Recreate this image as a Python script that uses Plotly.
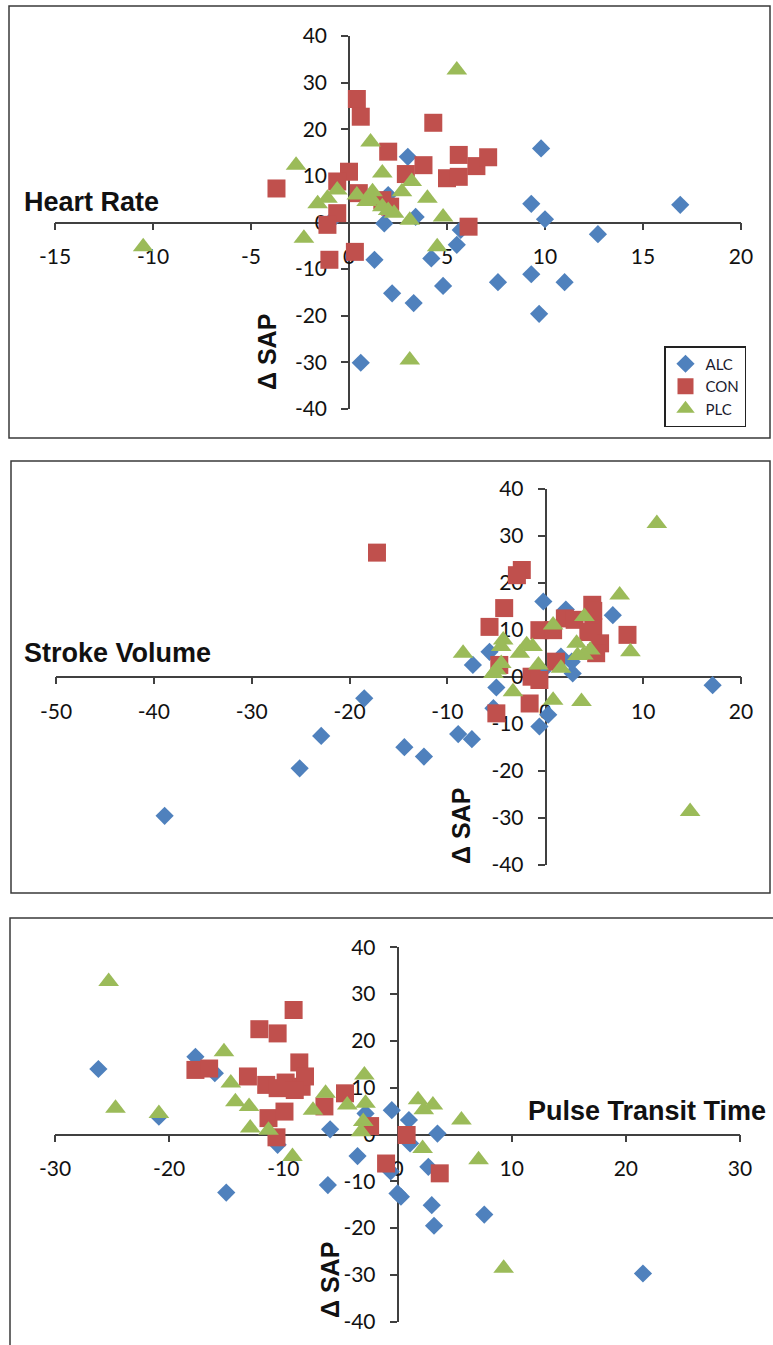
import plotly.graph_objects as go

# ---- Heart Rate panel ----
hr_alc_x = [3.0, 2.0, 1.8, 3.4, 1.3, 4.2, 5.5, 5.7, 2.2, 3.3, 4.8, 0.6, -0.8, 9.8, 9.3, 10.0, 12.7, 16.9, 9.3, 7.6, 11.0, 9.7]
hr_alc_y = [14.1, 5.9, -0.2, 1.2, -8.0, -7.7, -4.8, -1.6, -15.2, -17.3, -13.6, -30.1, 0.8, 15.9, 4.0, 0.7, -2.5, 3.8, -11.1, -12.8, -12.8, -19.6]
hr_con_x = [0.4, 0.6, 4.3, 2.0, 0.0, -0.6, -3.7, 3.8, 2.9, 5.0, 5.6, 5.6, 6.5, 7.1, 1.7, 0.5, -0.6, -1.1, -1.0, 0.3, 6.1, 2.1]
hr_con_y = [26.5, 22.7, 21.4, 15.2, 10.9, 8.8, 7.3, 12.3, 10.4, 9.5, 9.8, 14.5, 12.1, 14.0, 4.8, 6.3, 2.0, -0.5, -8.0, -6.3, -0.9, 3.4]
hr_plc_x = [5.5, 1.1, -2.7, 1.7, 3.2, 2.7, 4.0, -1.1, -0.6, 0.4, 1.2, 4.8, -2.3, 4.5, 3.1, 2.3, 1.7, 1.2, 3.1, -10.5, -1.6, 0.9, 2.0]
hr_plc_y = [32.7, 17.3, 12.3, 10.6, 8.8, 6.6, 5.2, 5.2, 7.0, 5.9, 6.6, 1.2, -3.4, -5.2, 0.5, 2.0, 3.4, 4.8, -29.5, -5.2, 4.0, 4.5, 2.6]

# ---- Stroke Volume panel ----
sv_alc_x = [-38.9, -18.5, -22.9, -25.1, -14.4, -12.4, -8.9, -7.5, -0.2, 2.1, 6.9, -5.7, -7.4, -5.0, -5.3, 2.8, 2.7, 0.3, -0.6, 17.1, -0.3, 1.6]
sv_alc_y = [-29.6, -4.6, -12.6, -19.5, -15.0, -17.0, -12.2, -13.3, 16.0, 14.3, 13.1, 5.3, 2.5, -2.3, -6.7, 0.7, 3.2, -8.1, -10.6, -1.8, 1.2, 4.3]
sv_con_x = [-17.2, -2.4, -2.9, -4.2, -5.7, -0.6, 0.8, 2.0, 3.0, 4.8, 4.9, 5.6, 5.2, 8.4, 1.1, -4.7, -1.4, -0.6, -1.6, -5.0, 4.9, 4.4]
sv_con_y = [26.4, 22.7, 21.6, 14.6, 10.6, 9.9, 9.9, 12.4, 12.1, 15.3, 10.6, 7.1, 5.0, 8.9, 3.2, 2.5, 0.0, -0.7, -5.7, -7.8, 14.0, 9.5]
sv_plc_x = [11.4, 7.6, 8.7, 4.0, 0.8, -4.3, -8.4, -4.5, -2.6, -1.3, -4.5, -5.0, -0.7, 1.6, 3.2, 4.6, 3.9, -3.3, 0.8, 3.7, 14.8, -5.3, -1.9, 3.3]
sv_plc_y = [32.6, 17.4, 5.3, 12.8, 11.0, 7.8, 5.0, 6.4, 5.0, 6.4, 2.8, 1.4, 2.5, 1.8, 7.1, 5.7, 4.6, -3.2, -5.0, -5.3, -28.7, 0.7, 6.8, 4.5]

# ---- Pulse Transit Time panel ----
ptt_alc_x = [-26.2, -17.7, -16.0, -20.9, -10.5, -15.0, -5.9, -6.1, -3.5, -0.5, 1.0, 1.1, -0.6, 0.0, 0.3, 2.7, 3.0, 3.2, 3.5, 7.6, 21.5, -2.8]
ptt_alc_y = [14.0, 16.6, 13.1, 3.8, -2.2, -12.4, 1.1, -10.8, -4.6, 5.2, 3.1, -1.9, -7.9, -12.6, -13.3, -6.9, -15.1, -19.5, 0.2, -17.1, -29.7, 4.5]
ptt_con_x = [-17.7, -16.5, -9.1, -12.1, -10.5, -8.6, -13.1, -11.5, -10.5, -9.8, -8.4, -8.1, -4.6, -6.4, -11.3, -9.9, -10.6, -2.4, -1.0, 0.8, 3.7, -9.0]
ptt_con_y = [13.8, 14.1, 26.6, 22.5, 21.6, 15.4, 12.4, 10.6, 9.9, 11.1, 10.2, 12.4, 8.8, 6.0, 3.5, 4.9, -0.6, 1.8, -6.2, -0.1, -8.3, 9.5]
ptt_plc_x = [-25.3, -15.2, -24.7, -20.9, -14.6, -14.2, -13.0, -12.9, -11.3, -9.2, -7.4, -6.3, -4.4, -2.9, -2.8, -3.0, -3.2, 1.8, 2.3, 3.1, 2.2, 5.6, 7.1, 9.3]
ptt_plc_y = [32.7, 17.7, 5.6, 4.5, 11.0, 7.0, 6.0, 1.4, 0.9, -4.7, 5.2, 8.8, 6.3, 12.7, 6.7, 2.8, 0.6, 7.4, 5.3, 6.3, -3.0, 3.1, -5.4, -28.6]

# ---- tick values / labels (hyphen minus as printed) ----
y_ticks = [-40, -30, -20, -10, 0, 10, 20, 30, 40]
hr_x_ticks = [-15, -10, -5, 0, 5, 10, 15, 20]
sv_x_ticks = [-50, -40, -30, -20, -10, 0, 10, 20]
ptt_x_ticks = [-30, -20, -10, 0, 10, 20, 30]

groups = ["ALC", "CON", "PLC"]
colors = {"ALC": "#4F81BD", "CON": "#C0504D", "PLC": "#9BBB59"}
symbols = {"ALC": "diamond", "CON": "square", "PLC": "triangle-up"}
sizes = {"ALC": 14, "CON": 18, "PLC": 18}

W, H = 773, 1345


def fx(px):
    return px / W


def fy(py):
    return 1 - py / H


def labels(vals):
    return [str(v) for v in vals]


panels = [
    # suffix, data, x range, x ticks, x px span, y px span, origin px
    ("", {"ALC": (hr_alc_x, hr_alc_y), "CON": (hr_con_x, hr_con_y), "PLC": (hr_plc_x, hr_plc_y)},
     [-15, 20], hr_x_ticks, (55, 741), (36.1, 408.9), (349, 222.5)),
    ("2", {"ALC": (sv_alc_x, sv_alc_y), "CON": (sv_con_x, sv_con_y), "PLC": (sv_plc_x, sv_plc_y)},
     [-50, 20], sv_x_ticks, (56, 741), (488.7, 864.7), (545.5, 676.7)),
    ("3", {"ALC": (ptt_alc_x, ptt_alc_y), "CON": (ptt_con_x, ptt_con_y), "PLC": (ptt_plc_x, ptt_plc_y)},
     [-30, 30], ptt_x_ticks, (55, 740), (947.3, 1321.7), (397.5, 1134.5)),
]

fig = go.Figure()
tick_font = dict(family="Lato, Carlito, sans-serif", size=21, color="#111111")
axis_common = dict(showgrid=False, zeroline=False, showline=True, linecolor="#404040",
                   linewidth=1.5, ticks="outside", ticklen=7, tickwidth=1.5,
                   tickcolor="#404040", tickfont=tick_font, layer="below traces",
                   anchor="free", tickmode="array", automargin=False)

for i, (sfx, data, xr, xt, xspan, yspan, origin) in enumerate(panels):
    for g in groups:
        xs, ys = data[g]
        fig.add_trace(go.Scatter(
            x=xs, y=ys, mode="markers", name=g,
            xaxis="x" + sfx, yaxis="y" + sfx,
            showlegend=(i == 0), legendgroup=g,
            marker=dict(symbol=symbols[g], size=sizes[g], color=colors[g],
                        line=dict(width=0)),
            cliponaxis=False,
        ))
    fig.layout["xaxis" + sfx] = dict(
        axis_common, domain=[fx(xspan[0]), fx(xspan[1])], range=xr,
        tickvals=xt, ticktext=labels(xt), position=fy(origin[1]), ticklabelstandoff=9)
    fig.layout["yaxis" + sfx] = dict(
        axis_common, domain=[fy(yspan[1]), fy(yspan[0])], range=[-40, 40],
        tickvals=y_ticks, ticktext=labels(y_ticks), position=fx(origin[0]),
        ticklabelstandoff=10)

# panel frames
frames = [(9, 6, 770, 438), (11, 461, 770, 893), (10, 918, 790, 1360)]
shapes = [dict(type="rect", xref="paper", yref="paper", x0=fx(a), y0=fy(b), x1=fx(c), y1=fy(d),
               line=dict(color="#3a3a3a", width=1.5), layer="below") for a, b, c, d in frames]

title_font = dict(family="Liberation Sans, Arial, sans-serif", size=27, color="#111")
annotations = [
    dict(text="<b>Heart Rate</b>", x=fx(22), y=fy(219), xanchor="left", yanchor="bottom"),
    dict(text="<b>Stroke Volume</b>", x=fx(22), y=fy(670), xanchor="left", yanchor="bottom"),
    dict(text="<b>Pulse Transit Time</b>", x=fx(526), y=fy(1128), xanchor="left", yanchor="bottom"),
]
annotations = [dict(a, xref="paper", yref="paper", showarrow=False, font=title_font) for a in annotations]

sap_font = dict(family="Liberation Sans, Arial, sans-serif", size=25, color="#111")
for cx, cy in [(267, 352), (461, 826), (330, 1280)]:
    annotations.append(dict(text="<b>\u0394 SAP</b>", textangle=-90, x=fx(cx), y=fy(cy),
                            xref="paper", yref="paper", xanchor="center", yanchor="middle",
                            showarrow=False, font=sap_font))

fig.update_layout(
    width=W, height=H, margin=dict(l=0, r=0, t=0, b=0, autoexpand=False),
    paper_bgcolor="white", plot_bgcolor="rgba(0,0,0,0)",
    shapes=shapes, annotations=annotations,
    legend=dict(x=fx(664), y=fy(346), xanchor="left", yanchor="top",
                bordercolor="#222", borderwidth=1.5, bgcolor="white",
                font=dict(family="Lato, Carlito, sans-serif", size=15, color="#1a1a2e"),
                itemwidth=30, tracegroupgap=0),
)

fig.write_html("out.html")
